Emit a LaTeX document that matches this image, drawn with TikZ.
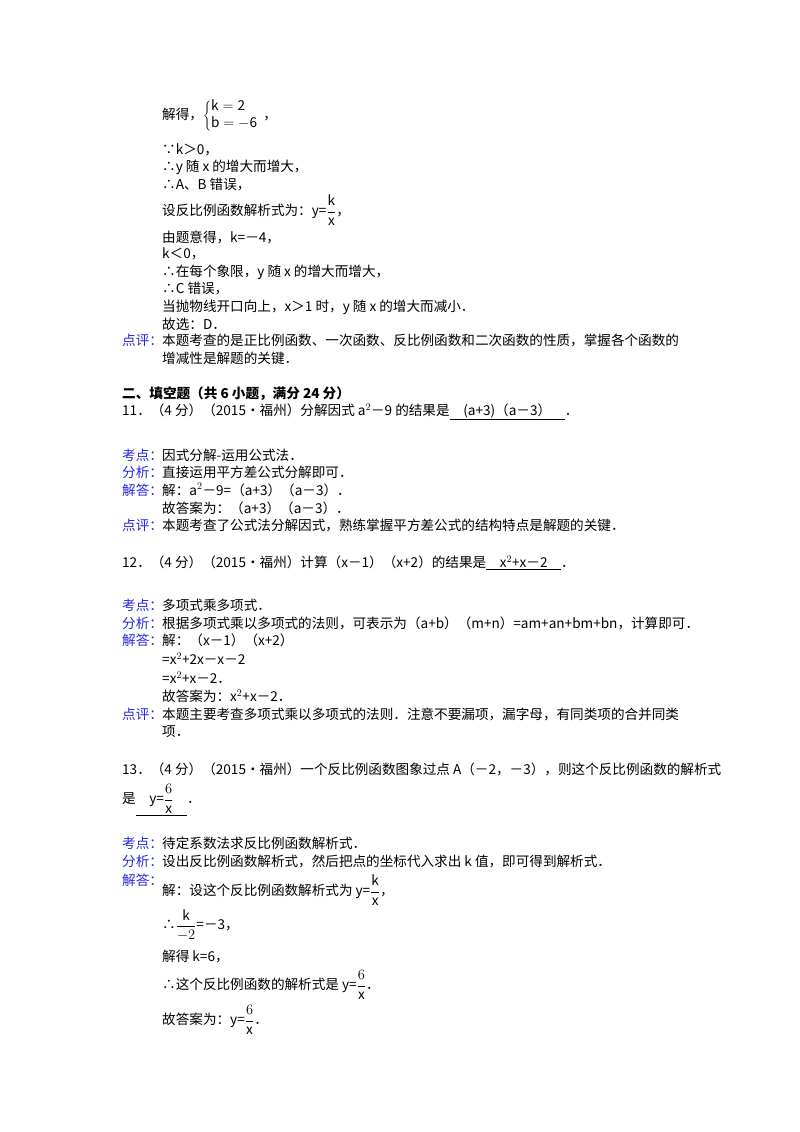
\documentclass[tikz,border=0pt]{standalone}
\usepackage{fontspec}
\setmainfont{Noto Sans CJK SC}
\definecolor{lab}{RGB}{40,40,220}
\newcommand{\myfr}[2]{{\displaystyle\frac{#1}{#2}}}
\begin{document}
\begin{tikzpicture}[x=1pt,y=-1pt,font=\fontsize{13.6}{16}\selectfont,
  t/.style={anchor=west,inner sep=0pt},
  l/.style={t,text=lab}]
\useasboundingbox[fill=white] (0,0) rectangle (800,1132);
\node[t] (a1) at (162,116) {解得，$\left\{\begin{array}{@{}l}\mathrm{k=2}\\[1pt] \mathrm{b=-6}\end{array}\right.$，};
\node[t] (a2) at (162,150) {∵k＞0，};
\node[t] (a3) at (162,167) {∴y 随 x 的增大而增大，};
\node[t] (a4) at (162,185) {∴A、B 错误，};
\node[t] (a5) at (162,210) {设反比例函数解析式为：y=$\myfr{\mathrm{k}}{\mathrm{x}}$，};
\node[t] (a6) at (162,237) {由题意得，k=－4，};
\node[t] (a7) at (162,254) {k＜0，};
\node[t] (a8) at (162,272) {∴在每个象限，y 随 x 的增大而增大，};
\node[t] (a9) at (162,289) {∴C 错误，};
\node[t] (a10) at (162,307) {当抛物线开口向上，x＞1 时，y 随 x 的增大而减小．};
\node[t] (a11) at (162,324) {故选：D．};
\node[l] (p1) at (122,340) {点评：};
\node[t] (p1t) at (162,340) {本题考查的是正比例函数、一次函数、反比例函数和二次函数的性质，掌握各个函数的};
\node[t] (p1u) at (162,358) {增减性是解题的关键．};
\node[t,font=\fontsize{13.6}{16}\selectfont\bfseries] (h) at (122,394) {二、填空题（共 6 小题，满分 24 分）};
\node[t] (q11) at (122,412) {11．（4 分）（2015•福州）分解因式 a$^2$－9 的结果是\underline{\quad (a+3)（a－3）\quad}．};
\node[l] (k11) at (122,455) {考点：};
\node[t] at (162,455) {因式分解-运用公式法．};
\node[l] (f11) at (122,472) {分析：};
\node[t] at (162,472) {直接运用平方差公式分解即可．};
\node[l] (j11) at (122,490) {解答：};
\node[t] at (162,490) {解：a$^2$－9=（a+3）（a－3）．};
\node[t] at (162,508) {故答案为：（a+3）（a－3）．};
\node[l] (d11) at (122,525) {点评：};
\node[t] at (162,525) {本题考查了公式法分解因式，熟练掌握平方差公式的结构特点是解题的关键．};
\node[t] (q12) at (122,563) {12．（4 分）（2015•福州）计算（x－1）（x+2）的结果是\underline{\quad x$^2$+x－2\quad}．};
\node[l] (k12) at (122,605) {考点：};
\node[t] at (162,605) {多项式乘多项式．};
\node[l] (f12) at (122,623) {分析：};
\node[t] at (162,623) {根据多项式乘以多项式的法则，可表示为（a+b）（m+n）=am+an+bm+bn，计算即可．};
\node[l] (j12) at (122,640) {解答：};
\node[t] at (162,640) {解：（x－1）（x+2）};
\node[t] at (162,659) {=x$^2$+2x－x－2};
\node[t] at (162,678) {=x$^2$+x－2．};
\node[t] at (162,696) {故答案为：x$^2$+x－2．};
\node[l] (d12) at (122,714) {点评：};
\node[t] at (162,714) {本题主要考查多项式乘以多项式的法则．注意不要漏项，漏字母，有同类项的合并同类};
\node[t] at (162,732) {项．};
\node[t] (q13) at (122,769) {13．（4 分）（2015•福州）一个反比例函数图象过点 A（－2，－3），则这个反比例函数的解析式};
\node[t] (q13b) at (122,800) {是\underline{\quad y=$\myfr{6}{\mathrm{x}}$\quad}．};
\node[l] (k13) at (122,843) {考点：};
\node[t] at (162,843) {待定系数法求反比例函数解析式．};
\node[l] (f13) at (122,861) {分析：};
\node[t] at (162,861) {设出反比例函数解析式，然后把点的坐标代入求出 k 值，即可得到解析式．};
\node[l] (j13) at (122,880) {解答：};
\node[t] at (162,890) {解：设这个反比例函数解析式为 y=$\myfr{\mathrm{k}}{\mathrm{x}}$，};
\node[t] at (162,925) {∴$\myfr{\mathrm{k}}{-2}$=－3，};
\node[t] at (162,956) {解得 k=6，};
\node[t] at (162,985) {∴这个反比例函数的解析式是 y=$\myfr{6}{\mathrm{x}}$．};
\node[t] at (162,1020) {故答案为：y=$\myfr{6}{\mathrm{x}}$．};
\end{tikzpicture}
\end{document}
